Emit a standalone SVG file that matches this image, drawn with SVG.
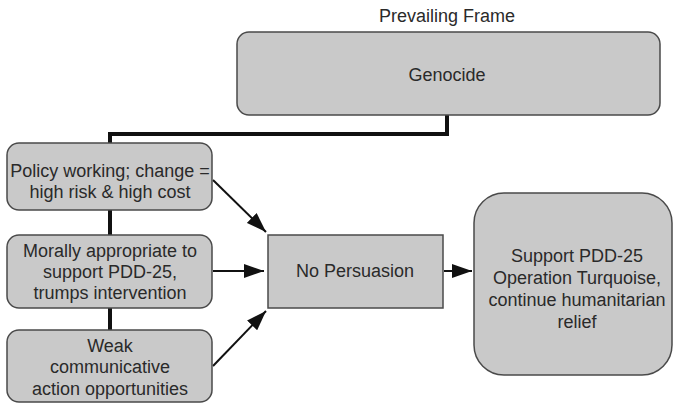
<svg xmlns="http://www.w3.org/2000/svg" width="673" height="403" viewBox="0 0 673 403">
  <defs>
    <marker id="arrowLg" viewBox="0 0 10 10" refX="10" refY="5" markerWidth="20" markerHeight="14" markerUnits="userSpaceOnUse" orient="auto" preserveAspectRatio="none">
      <path d="M0,0 L10,5 L0,10 Z" fill="#111"/>
    </marker>
  </defs>
  <style>
    .box { fill: #c9c9c9; stroke: #4a4a4a; stroke-width: 1.5; }
    .lbl { font-family: "Liberation Sans", Arial, sans-serif; font-size: 18px; fill: #2a2a2a; text-anchor: middle; }
    .thick { fill: none; stroke: #111; stroke-width: 4; }
    .arr { fill: none; stroke: #111; stroke-width: 2; marker-end: url(#arrowLg); }
  </style>
  <rect width="673" height="403" fill="#fff"/>

  <!-- frame trunk linking the prevailing frame to the factor column -->
  <g id="connectors">
    <path class="thick" d="M447,115 V134 H110 V143"/>
    <path class="thick" d="M110,210 V235"/>
    <path class="thick" d="M110,308 V330"/>
    <path class="arr" d="M213,180 L266,232"/>
    <path class="arr" d="M213,271 L264,271"/>
    <path class="arr" d="M213,366 L266,311"/>
    <path class="arr" d="M444,271 L472,271"/>
  </g>

  <text class="lbl" x="447" y="22">Prevailing Frame</text>

  <g id="genocide">
    <rect class="box" x="237" y="32" width="423" height="83" rx="12"/>
    <text class="lbl" x="447" y="81">Genocide</text>
  </g>

  <g id="policy">
    <rect class="box" x="7" y="143" width="205" height="67" rx="12"/>
    <text class="lbl" x="110" y="177">Policy working; change =</text>
    <text class="lbl" x="110" y="198">high risk &amp; high cost</text>
  </g>

  <g id="moral">
    <rect class="box" x="7" y="235" width="205" height="73" rx="12"/>
    <text class="lbl" x="110" y="257">Morally appropriate to</text>
    <text class="lbl" x="110" y="278">support PDD-25,</text>
    <text class="lbl" x="110" y="299">trumps intervention</text>
  </g>

  <g id="weak">
    <rect class="box" x="7" y="330" width="205" height="72" rx="12"/>
    <text class="lbl" x="110" y="352">Weak</text>
    <text class="lbl" x="110" y="373">communicative</text>
    <text class="lbl" x="110" y="395">action opportunities</text>
  </g>

  <g id="no-persuasion">
    <rect class="box" x="268" y="235" width="175" height="73"/>
    <text class="lbl" x="355" y="277">No Persuasion</text>
  </g>

  <g id="outcome">
    <rect class="box" x="474" y="193" width="198" height="182" rx="30"/>
    <text class="lbl" x="577" y="262">Support PDD-25</text>
    <text class="lbl" x="577" y="284">Operation Turquoise,</text>
    <text class="lbl" x="577" y="306">continue humanitarian</text>
    <text class="lbl" x="577" y="328">relief</text>
  </g>
</svg>
